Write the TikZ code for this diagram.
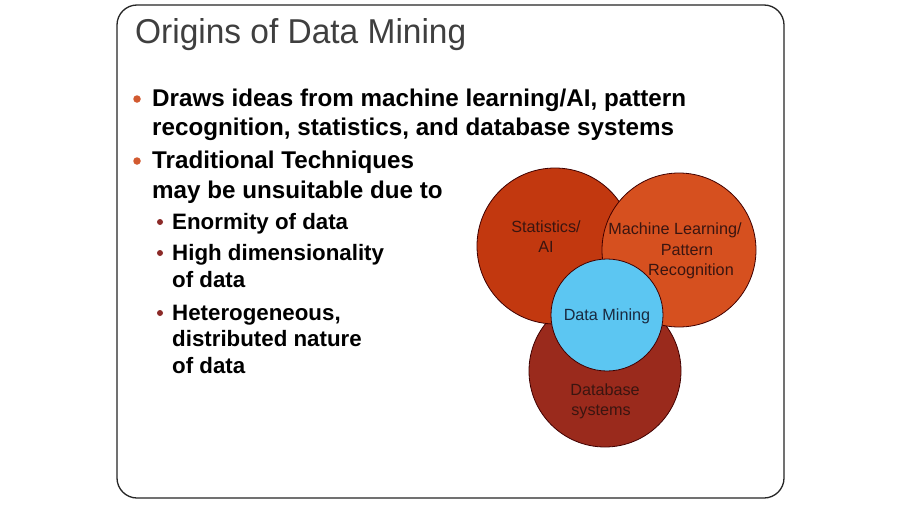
\documentclass[tikz,border=0pt]{standalone}
\usepackage{fontspec}
\setmainfont{Liberation Sans}
\definecolor{titlegray}{HTML}{3F3F3F}
\definecolor{statcol}{HTML}{C2380F}
\definecolor{mlcol}{HTML}{D6501F}
\definecolor{dbcol}{HTML}{9A2A1C}
\definecolor{dmcol}{HTML}{5CC6F2}
\definecolor{circtext}{HTML}{3A1510}
\definecolor{dmtext}{HTML}{1A2A40}
\definecolor{bulleta}{HTML}{D25A30}
\definecolor{bulletb}{HTML}{8C2A28}
\begin{document}
\begin{tikzpicture}[x=1pt,y=-1pt,
  frame/.style={draw=black!85, line width=1.3pt, rounded corners=20pt},
  line/.style={anchor=base west, inner sep=0pt, font=\fontsize{24.2}{28}\selectfont\bfseries},
  subline/.style={anchor=base west, inner sep=0pt, font=\fontsize{22.3}{26}\selectfont\bfseries},
  dota/.style={circle, fill=bulleta, inner sep=0pt, minimum size=7.5pt},
  dotb/.style={circle, fill=bulletb, inner sep=0pt, minimum size=6pt},
  venn/.style={circle, draw=black!75!red, line width=0.8pt, inner sep=0pt},
  vtext/.style={anchor=base, inner sep=0pt, text=circtext, font=\fontsize{16.2}{19}\selectfont}
]
\useasboundingbox (0,0) rectangle (900,506);
\fill[white] (0,0) rectangle (900,506);
\draw[frame] (117,5) rectangle (784,498);

\node[anchor=base west, inner sep=0pt, text=titlegray,
      font=\fontsize{34.5}{40}\selectfont, xscale=0.97] (title) at (135,43) {Origins of Data Mining};

% main bullets
\node[dota] (d1) at (137,99) {};
\node[line] (l1) at (152,106) {Draws ideas from machine learning/AI, pattern};
\node[line] (l2) at (152,135) {recognition, statistics, and database systems};
\node[dota] (d2) at (137,161) {};
\node[line] (l3) at (152,168) {Traditional Techniques};
\node[line] (l4) at (152,198) {may be unsuitable due to};

% sub bullets
\node[dotb] (s1) at (160,222) {};
\node[subline] (t1) at (172,229) {Enormity of data};
\node[dotb] (s2) at (160,253) {};
\node[subline] (t2) at (172,260) {High dimensionality};
\node[subline] (t3) at (172,287) {of data};
\node[dotb] (s3) at (160,313) {};
\node[subline] (t4) at (172,320) {Heterogeneous,};
\node[subline] (t5) at (172,346) {distributed nature};
\node[subline] (t6) at (172,373) {of data};

% Venn circles
\node[venn, fill=dbcol, minimum size=152pt] (db) at (605,371) {};
\node[venn, fill=statcol, minimum size=156pt] (stat) at (555,246) {};
\node[venn, fill=mlcol, minimum size=154pt] (ml) at (679,250) {};
\node[venn, fill=dmcol, minimum size=112pt] (dm) at (607,315) {};

\node[vtext] (st1) at (546,232) {Statistics/};
\node[vtext] (st2) at (546,252) {AI};
\node[vtext] (ml1) at (675,234) {Machine Learning/};
\node[vtext] (ml2) at (687,255) {Pattern};
\node[vtext] (ml3) at (691,275) {Recognition};
\node[vtext, text=dmtext] (dmt) at (607,320) {Data Mining};
\node[vtext] (db1) at (605,395) {Database};
\node[vtext] (db2) at (601,415) {systems};
\end{tikzpicture}
\end{document}
